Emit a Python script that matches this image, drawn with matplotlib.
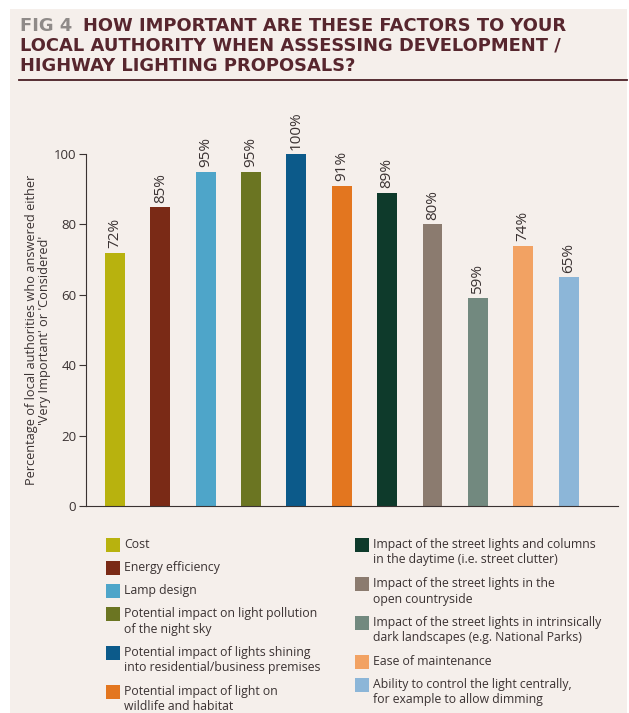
import matplotlib.pyplot as plt
from matplotlib.patches import Rectangle

# data
factors = [
    "Cost",
    "Energy efficiency",
    "Lamp design",
    "Potential impact on light pollution\nof the night sky",
    "Potential impact of lights shining\ninto residential/business premises",
    "Potential impact of light on\nwildlife and habitat",
    "Impact of the street lights and columns\nin the daytime (i.e. street clutter)",
    "Impact of the street lights in the\nopen countryside",
    "Impact of the street lights in intrinsically\ndark landscapes (e.g. National Parks)",
    "Ease of maintenance",
    "Ability to control the light centrally,\nfor example to allow dimming",
]
values = [72, 85, 95, 95, 100, 91, 89, 80, 59, 74, 65]
colors = ["#b8b20e", "#7a2a16", "#4ea5c9", "#6b7522", "#0c5a8a", "#e3761f",
          "#0e3a2b", "#8b7b6f", "#72897f", "#f2a263", "#8cb6d8"]
y_ticks = [0, 20, 40, 60, 80, 100]

plt.rcParams["font.family"] = ["Open Sans", "DejaVu Sans"]

W, H = 629, 713
bg = "#f5efeb"
txt = "#3a3232"
fig = plt.figure(figsize=(W / 100, H / 100), dpi=100, facecolor="white")
# tinted panel with a thin white margin on the left, top and right
fig.add_artist(Rectangle((10 / W, 0), 617 / W, (H - 9) / H,
                         transform=fig.transFigure, color=bg, lw=0, zorder=-10))

# title, "FIG 4" in grey, rest in dark maroon
title_col = "#57262e"
tkw = dict(fontsize=12.9, family="DejaVu Sans", fontweight="bold")
fig.text(20 / W, 1 - 31 / H, "FIG 4", color="#8f8a88", **tkw)
fig.text(83 / W, 1 - 31 / H, "HOW IMPORTANT ARE THESE FACTORS TO YOUR",
         color=title_col, **tkw)
fig.text(20 / W, 1 - 51 / H, "LOCAL AUTHORITY WHEN ASSESSING DEVELOPMENT /",
         color=title_col, **tkw)
fig.text(20 / W, 1 - 71 / H, "HIGHWAY LIGHTING PROPOSALS?",
         color=title_col, **tkw)
fig.add_artist(plt.Line2D([19 / W, 627 / W], [1 - 80 / H, 1 - 80 / H],
                          color="#4a1e24", lw=1.3))

# bar chart
ax = fig.add_axes([86 / W, 1 - 506 / H, (618 - 86) / W, (506 - 154) / H])
ax.set_facecolor(bg)
ax.patch.set_alpha(0)
x = list(range(len(values)))
bars = ax.bar(x, values, width=0.44, color=colors)
for b, v in zip(bars, values):
    ax.text(b.get_x() + b.get_width() / 2, v + 1.2, f"{v}%", rotation=90,
            ha="center", va="bottom", fontsize=11, color=txt, clip_on=False)

ax.set_xlim(-0.64, 11.09)
ax.set_ylim(0, 100)
ax.set_yticks(y_ticks)
ax.set_xticks([])
ax.tick_params(axis="y", length=5, width=0.8, color=txt, labelcolor=txt,
               labelsize=9.5, pad=2)
for s in ["top", "right"]:
    ax.spines[s].set_visible(False)
ax.spines["left"].set_color(txt)
ax.spines["bottom"].set_color(txt)
ax.spines["left"].set_linewidth(0.8)
ax.spines["bottom"].set_linewidth(0.8)
ax.set_ylabel("Percentage of local authorities who answered either\n"
              "'Very Important' or 'Considered'", fontsize=9.2, color=txt,
              linespacing=0.95, labelpad=2)

# legend drawn as two columns of squares and labels
col_x = [106, 355]
y_px = [545, 545]
for i, (lab, c) in enumerate(zip(factors, colors)):
    col = 0 if i < 6 else 1
    yy = y_px[col]
    fig.add_artist(Rectangle((col_x[col] / W, 1 - (yy + 7) / H), 14 / W, 14 / H,
                             transform=fig.transFigure, color=c, lw=0))
    fig.text((col_x[col] + 18) / W, 1 - (yy - 7) / H, lab, va="top",
             ha="left", fontsize=8.8, color=txt, linespacing=1.25)
    y_px[col] += 23 + 16 * lab.count("\n")

fig.savefig("out.png", dpi=100, facecolor="white")
